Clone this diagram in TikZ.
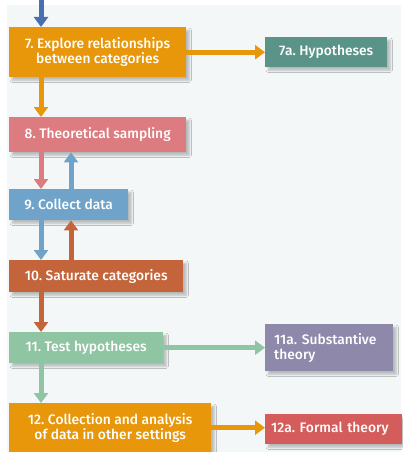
\documentclass[tikz,border=0pt]{standalone}
\usepackage{fontspec}
\setmainfont{Fira Sans}
\newfontfamily\boxfont{Fira Sans Medium}
\usetikzlibrary{arrows.meta,shadows.blur}
\definecolor{bgc}{HTML}{F3F7F8}
\definecolor{corange}{HTML}{E8960A}
\definecolor{cteal}{HTML}{5A9488}
\definecolor{cpink}{HTML}{DC7C80}
\definecolor{cblue}{HTML}{6FA3C9}
\definecolor{cbrown}{HTML}{C4643A}
\definecolor{cgreen}{HTML}{8FC5A2}
\definecolor{cpurple}{HTML}{8E88AA}
\definecolor{cred}{HTML}{D45C5A}
\definecolor{cdblue}{HTML}{4A6FB0}
\frenchspacing
\begin{document}
\begin{tikzpicture}[x=1pt,y=-1pt,
  box/.style={rectangle, inner sep=0pt, anchor=north west, text=white,
    font=\boxfont\fontsize{13.8}{15}\selectfont\frenchspacing, align=center,
    blur shadow={shadow xshift=3pt, shadow yshift=-3pt, shadow blur steps=6, shadow opacity=25}},
  arr/.style={line width=5pt, -{Triangle[width=14pt,length=10pt]}}]
\useasboundingbox (0,0) rectangle (402,452);
\fill[white] (0,0) rectangle (402,452);
\fill[bgc] (7,5) rectangle (401,452);
% nodes
\node[box, fill=corange, minimum width=177pt, minimum height=50pt] (b7) at (9,27) {7. Explore relationships\\between categories};
\node[box, fill=cteal, minimum width=122pt, minimum height=30pt] (b7a) at (265,37) {7a. Hypotheses};
\node[box, fill=cpink, minimum width=177pt, minimum height=35pt] (b8) at (9,117) {8. Theoretical sampling};
\node[box, fill=cblue, minimum width=119pt, minimum height=31pt] (b9) at (9,189) {9. Collect data};
\node[box, fill=cbrown, minimum width=174pt, minimum height=32pt] (b10) at (9,260) {10. Saturate categories};
\node[box, fill=cgreen, minimum width=154pt, minimum height=31pt] (b11) at (9,332) {11. Test hypotheses};
\node[box, fill=cpurple, minimum width=128pt, minimum height=47pt, text width=110pt, align=left] (b11a) at (265,324) {11a. Substantive\\theory};
\node[box, fill=corange, minimum width=202pt, minimum height=49pt] (b12) at (9,403) {12. Collection and analysis\\of data in other settings};
\node[box, fill=cred, minimum width=137pt, minimum height=30pt, text width=125pt, align=left] (b12a) at (265,414) {12a. Formal theory};
% coordinates
\coordinate (top) at (41,0);
\coordinate (cl) at (41,0);
\coordinate (cr) at (71,0);
% arrows
\draw[arr, cdblue] (top) -- (b7.north -| cl);
\draw[arr, corange] (b7.east) -- (b7a.west);
\draw[arr, corange] (b7.south -| cl) -- (b8.north -| cl);
\draw[arr, cpink] (b8.south -| cl) -- (b9.north -| cl);
\draw[arr, cblue] (b9.north -| cr) -- (b8.south -| cr);
\draw[arr, cblue] (b9.south -| cl) -- (b10.north -| cl);
\draw[arr, cbrown] (b10.north -| cr) -- (b9.south -| cr);
\draw[arr, cbrown] (b10.south -| cl) -- (b11.north -| cl);
\draw[arr, cgreen] (b11.east) -- (b11a.west |- b11.east);
\draw[arr, cgreen] (b11.south -| cl) -- (b12.north -| cl);
\draw[arr, corange] (b12.east) -- (b12a.west |- b12.east);
\end{tikzpicture}
\end{document}
